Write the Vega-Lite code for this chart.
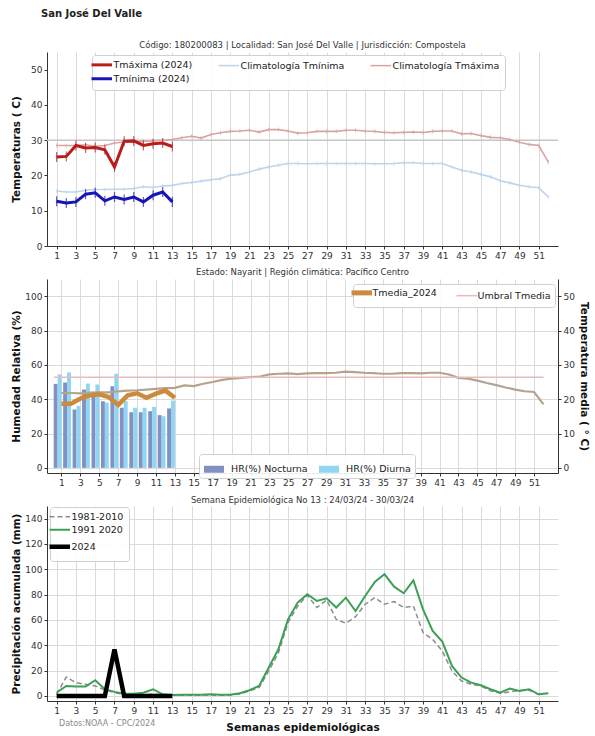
{
"$schema":"https://vega.github.io/schema/vega-lite/v6.json",
"background":"white",
"padding":{"left":10,"top":8,"right":5,"bottom":2},
"title":{"text":"San José Del Valle","anchor":"start","frame":"bounds","fontSize":10,"fontWeight":"bold","color":"#222","dx":30,"offset":22},
"datasets":{
"temp":[
{"w":1,"s":"Tmáxima (2024)","v":25.2},{"w":2,"s":"Tmáxima (2024)","v":25.4},{"w":3,"s":"Tmáxima (2024)","v":28.5},{"w":4,"s":"Tmáxima (2024)","v":27.8},{"w":5,"s":"Tmáxima (2024)","v":27.9},{"w":6,"s":"Tmáxima (2024)","v":27.3},{"w":7,"s":"Tmáxima (2024)","v":22.4},{"w":8,"s":"Tmáxima (2024)","v":29.7},{"w":9,"s":"Tmáxima (2024)","v":29.8},{"w":10,"s":"Tmáxima (2024)","v":28.5},{"w":11,"s":"Tmáxima (2024)","v":29.0},{"w":12,"s":"Tmáxima (2024)","v":29.2},{"w":13,"s":"Tmáxima (2024)","v":28.2},
{"w":1,"s":"Tmínima (2024)","v":12.7},{"w":2,"s":"Tmínima (2024)","v":12.2},{"w":3,"s":"Tmínima (2024)","v":12.5},{"w":4,"s":"Tmínima (2024)","v":14.7},{"w":5,"s":"Tmínima (2024)","v":15.1},{"w":6,"s":"Tmínima (2024)","v":12.8},{"w":7,"s":"Tmínima (2024)","v":13.9},{"w":8,"s":"Tmínima (2024)","v":13.2},{"w":9,"s":"Tmínima (2024)","v":13.9},{"w":10,"s":"Tmínima (2024)","v":12.5},{"w":11,"s":"Tmínima (2024)","v":14.4},{"w":12,"s":"Tmínima (2024)","v":15.3},{"w":13,"s":"Tmínima (2024)","v":12.5},
{"w":1,"s":"Climatología Tmáxima","v":28.5},{"w":2,"s":"Climatología Tmáxima","v":28.5},{"w":3,"s":"Climatología Tmáxima","v":28.5},{"w":4,"s":"Climatología Tmáxima","v":28.7},{"w":5,"s":"Climatología Tmáxima","v":28.3},{"w":6,"s":"Climatología Tmáxima","v":28.5},{"w":7,"s":"Climatología Tmáxima","v":29.2},{"w":8,"s":"Climatología Tmáxima","v":29.5},{"w":9,"s":"Climatología Tmáxima","v":29.5},{"w":10,"s":"Climatología Tmáxima","v":29.7},{"w":11,"s":"Climatología Tmáxima","v":29.8},{"w":12,"s":"Climatología Tmáxima","v":30.0},{"w":13,"s":"Climatología Tmáxima","v":30.2},{"w":14,"s":"Climatología Tmáxima","v":30.7},{"w":15,"s":"Climatología Tmáxima","v":31.1},{"w":16,"s":"Climatología Tmáxima","v":30.6},{"w":17,"s":"Climatología Tmáxima","v":31.6},{"w":18,"s":"Climatología Tmáxima","v":32.1},{"w":19,"s":"Climatología Tmáxima","v":32.5},{"w":20,"s":"Climatología Tmáxima","v":32.6},{"w":21,"s":"Climatología Tmáxima","v":32.8},{"w":22,"s":"Climatología Tmáxima","v":32.3},{"w":23,"s":"Climatología Tmáxima","v":33.0},{"w":24,"s":"Climatología Tmáxima","v":33.0},{"w":25,"s":"Climatología Tmáxima","v":32.6},{"w":26,"s":"Climatología Tmáxima","v":32.0},{"w":27,"s":"Climatología Tmáxima","v":32.1},{"w":28,"s":"Climatología Tmáxima","v":32.5},{"w":29,"s":"Climatología Tmáxima","v":32.5},{"w":30,"s":"Climatología Tmáxima","v":32.5},{"w":31,"s":"Climatología Tmáxima","v":32.8},{"w":32,"s":"Climatología Tmáxima","v":32.8},{"w":33,"s":"Climatología Tmáxima","v":32.6},{"w":34,"s":"Climatología Tmáxima","v":32.5},{"w":35,"s":"Climatología Tmáxima","v":32.2},{"w":36,"s":"Climatología Tmáxima","v":32.1},{"w":37,"s":"Climatología Tmáxima","v":32.2},{"w":38,"s":"Climatología Tmáxima","v":32.3},{"w":39,"s":"Climatología Tmáxima","v":32.2},{"w":40,"s":"Climatología Tmáxima","v":32.5},{"w":41,"s":"Climatología Tmáxima","v":32.6},{"w":42,"s":"Climatología Tmáxima","v":32.6},{"w":43,"s":"Climatología Tmáxima","v":31.8},{"w":44,"s":"Climatología Tmáxima","v":31.9},{"w":45,"s":"Climatología Tmáxima","v":31.3},{"w":46,"s":"Climatología Tmáxima","v":30.8},{"w":47,"s":"Climatología Tmáxima","v":30.7},{"w":48,"s":"Climatología Tmáxima","v":30.2},{"w":49,"s":"Climatología Tmáxima","v":29.4},{"w":50,"s":"Climatología Tmáxima","v":28.8},{"w":51,"s":"Climatología Tmáxima","v":28.5},{"w":52,"s":"Climatología Tmáxima","v":23.8},
{"w":1,"s":"Climatología Tmínima","v":15.6},{"w":2,"s":"Climatología Tmínima","v":15.3},{"w":3,"s":"Climatología Tmínima","v":15.3},{"w":4,"s":"Climatología Tmínima","v":15.8},{"w":5,"s":"Climatología Tmínima","v":16.0},{"w":6,"s":"Climatología Tmínima","v":16.0},{"w":7,"s":"Climatología Tmínima","v":16.1},{"w":8,"s":"Climatología Tmínima","v":16.1},{"w":9,"s":"Climatología Tmínima","v":16.3},{"w":10,"s":"Climatología Tmínima","v":16.8},{"w":11,"s":"Climatología Tmínima","v":16.6},{"w":12,"s":"Climatología Tmínima","v":17.0},{"w":13,"s":"Climatología Tmínima","v":17.2},{"w":14,"s":"Climatología Tmínima","v":17.7},{"w":15,"s":"Climatología Tmínima","v":18.0},{"w":16,"s":"Climatología Tmínima","v":18.4},{"w":17,"s":"Climatología Tmínima","v":18.8},{"w":18,"s":"Climatología Tmínima","v":19.1},{"w":19,"s":"Climatología Tmínima","v":20.1},{"w":20,"s":"Climatología Tmínima","v":20.3},{"w":21,"s":"Climatología Tmínima","v":21.0},{"w":22,"s":"Climatología Tmínima","v":21.8},{"w":23,"s":"Climatología Tmínima","v":22.4},{"w":24,"s":"Climatología Tmínima","v":22.9},{"w":25,"s":"Climatología Tmínima","v":23.4},{"w":26,"s":"Climatología Tmínima","v":23.4},{"w":27,"s":"Climatología Tmínima","v":23.3},{"w":28,"s":"Climatología Tmínima","v":23.4},{"w":29,"s":"Climatología Tmínima","v":23.4},{"w":30,"s":"Climatología Tmínima","v":23.4},{"w":31,"s":"Climatología Tmínima","v":23.4},{"w":32,"s":"Climatología Tmínima","v":23.4},{"w":33,"s":"Climatología Tmínima","v":23.4},{"w":34,"s":"Climatología Tmínima","v":23.3},{"w":35,"s":"Climatología Tmínima","v":23.3},{"w":36,"s":"Climatología Tmínima","v":23.4},{"w":37,"s":"Climatología Tmínima","v":23.6},{"w":38,"s":"Climatología Tmínima","v":23.6},{"w":39,"s":"Climatología Tmínima","v":23.4},{"w":40,"s":"Climatología Tmínima","v":23.4},{"w":41,"s":"Climatología Tmínima","v":23.4},{"w":42,"s":"Climatología Tmínima","v":22.4},{"w":43,"s":"Climatología Tmínima","v":21.5},{"w":44,"s":"Climatología Tmínima","v":21.0},{"w":45,"s":"Climatología Tmínima","v":20.3},{"w":46,"s":"Climatología Tmínima","v":19.6},{"w":47,"s":"Climatología Tmínima","v":18.5},{"w":48,"s":"Climatología Tmínima","v":17.9},{"w":49,"s":"Climatología Tmínima","v":17.2},{"w":50,"s":"Climatología Tmínima","v":16.8},{"w":51,"s":"Climatología Tmínima","v":16.5},{"w":52,"s":"Climatología Tmínima","v":13.9}
],
"hr":[
{"w":1,"t":"HR(%) Nocturna","hr":48.9},{"w":2,"t":"HR(%) Nocturna","hr":49.7},{"w":3,"t":"HR(%) Nocturna","hr":34.0},{"w":4,"t":"HR(%) Nocturna","hr":45.6},{"w":5,"t":"HR(%) Nocturna","hr":43.1},{"w":6,"t":"HR(%) Nocturna","hr":38.8},{"w":7,"t":"HR(%) Nocturna","hr":47.6},{"w":8,"t":"HR(%) Nocturna","hr":35.0},{"w":9,"t":"HR(%) Nocturna","hr":32.4},{"w":10,"t":"HR(%) Nocturna","hr":32.4},{"w":11,"t":"HR(%) Nocturna","hr":33.0},{"w":12,"t":"HR(%) Nocturna","hr":30.7},{"w":13,"t":"HR(%) Nocturna","hr":34.6},
{"w":1,"t":"HR(%) Diurna","hr":54.4},{"w":2,"t":"HR(%) Diurna","hr":55.6},{"w":3,"t":"HR(%) Diurna","hr":36.0},{"w":4,"t":"HR(%) Diurna","hr":49.1},{"w":5,"t":"HR(%) Diurna","hr":48.5},{"w":6,"t":"HR(%) Diurna","hr":38.0},{"w":7,"t":"HR(%) Diurna","hr":54.8},{"w":8,"t":"HR(%) Diurna","hr":38.8},{"w":9,"t":"HR(%) Diurna","hr":35.0},{"w":10,"t":"HR(%) Diurna","hr":35.0},{"w":11,"t":"HR(%) Diurna","hr":35.5},{"w":12,"t":"HR(%) Diurna","hr":30.1},{"w":13,"t":"HR(%) Diurna","hr":39.2}
],
"tmed":[
{"w":1,"s":"Tmedia_2024","v":18.7},{"w":2,"s":"Tmedia_2024","v":18.7},{"w":3,"s":"Tmedia_2024","v":20.2},{"w":4,"s":"Tmedia_2024","v":21.1},{"w":5,"s":"Tmedia_2024","v":21.4},{"w":6,"s":"Tmedia_2024","v":20.6},{"w":7,"s":"Tmedia_2024","v":18.3},{"w":8,"s":"Tmedia_2024","v":21.1},{"w":9,"s":"Tmedia_2024","v":21.7},{"w":10,"s":"Tmedia_2024","v":20.4},{"w":11,"s":"Tmedia_2024","v":21.6},{"w":12,"s":"Tmedia_2024","v":22.5},{"w":13,"s":"Tmedia_2024","v":20.4},
{"w":1,"s":"Clim","v":21.8},{"w":2,"s":"Clim","v":21.8},{"w":3,"s":"Clim","v":21.7},{"w":4,"s":"Clim","v":21.9},{"w":5,"s":"Clim","v":22.0},{"w":6,"s":"Clim","v":22.0},{"w":7,"s":"Clim","v":22.3},{"w":8,"s":"Clim","v":22.5},{"w":9,"s":"Clim","v":22.6},{"w":10,"s":"Clim","v":22.8},{"w":11,"s":"Clim","v":23.0},{"w":12,"s":"Clim","v":23.2},{"w":13,"s":"Clim","v":23.3},{"w":14,"s":"Clim","v":24.0},{"w":15,"s":"Clim","v":23.8},{"w":16,"s":"Clim","v":24.5},{"w":17,"s":"Clim","v":25.0},{"w":18,"s":"Clim","v":25.6},{"w":19,"s":"Clim","v":26.0},{"w":20,"s":"Clim","v":26.2},{"w":21,"s":"Clim","v":26.4},{"w":22,"s":"Clim","v":26.6},{"w":23,"s":"Clim","v":27.2},{"w":24,"s":"Clim","v":27.4},{"w":25,"s":"Clim","v":27.5},{"w":26,"s":"Clim","v":27.3},{"w":27,"s":"Clim","v":27.5},{"w":28,"s":"Clim","v":27.6},{"w":29,"s":"Clim","v":27.6},{"w":30,"s":"Clim","v":27.7},{"w":31,"s":"Clim","v":28.0},{"w":32,"s":"Clim","v":27.9},{"w":33,"s":"Clim","v":27.7},{"w":34,"s":"Clim","v":27.6},{"w":35,"s":"Clim","v":27.4},{"w":36,"s":"Clim","v":27.4},{"w":37,"s":"Clim","v":27.6},{"w":38,"s":"Clim","v":27.6},{"w":39,"s":"Clim","v":27.5},{"w":40,"s":"Clim","v":27.7},{"w":41,"s":"Clim","v":27.7},{"w":42,"s":"Clim","v":27.2},{"w":43,"s":"Clim","v":26.2},{"w":44,"s":"Clim","v":26.0},{"w":45,"s":"Clim","v":25.4},{"w":46,"s":"Clim","v":24.7},{"w":47,"s":"Clim","v":24.1},{"w":48,"s":"Clim","v":23.4},{"w":49,"s":"Clim","v":22.8},{"w":50,"s":"Clim","v":22.3},{"w":51,"s":"Clim","v":22.1},{"w":52,"s":"Clim","v":18.5}
],
"prec":[
{"w":1,"s":"1981-2010","v":1.3},{"w":2,"s":"1981-2010","v":15.0},{"w":3,"s":"1981-2010","v":10.5},{"w":4,"s":"1981-2010","v":9.2},{"w":5,"s":"1981-2010","v":7.9},{"w":6,"s":"1981-2010","v":4.7},{"w":7,"s":"1981-2010","v":2.6},{"w":8,"s":"1981-2010","v":1.3},{"w":9,"s":"1981-2010","v":1.0},{"w":10,"s":"1981-2010","v":1.0},{"w":11,"s":"1981-2010","v":1.5},{"w":12,"s":"1981-2010","v":1.0},{"w":13,"s":"1981-2010","v":0.5},{"w":14,"s":"1981-2010","v":0.5},{"w":15,"s":"1981-2010","v":0.5},{"w":16,"s":"1981-2010","v":0.5},{"w":17,"s":"1981-2010","v":0.8},{"w":18,"s":"1981-2010","v":0.5},{"w":19,"s":"1981-2010","v":0.8},{"w":20,"s":"1981-2010","v":1.5},{"w":21,"s":"1981-2010","v":4.0},{"w":22,"s":"1981-2010","v":6.6},{"w":23,"s":"1981-2010","v":19.7},{"w":24,"s":"1981-2010","v":34.0},{"w":25,"s":"1981-2010","v":57.9},{"w":26,"s":"1981-2010","v":71.0},{"w":27,"s":"1981-2010","v":79.5},{"w":28,"s":"1981-2010","v":69.8},{"w":29,"s":"1981-2010","v":75.8},{"w":30,"s":"1981-2010","v":60.5},{"w":31,"s":"1981-2010","v":57.4},{"w":32,"s":"1981-2010","v":62.6},{"w":33,"s":"1981-2010","v":72.4},{"w":34,"s":"1981-2010","v":77.6},{"w":35,"s":"1981-2010","v":72.4},{"w":36,"s":"1981-2010","v":74.5},{"w":37,"s":"1981-2010","v":69.8},{"w":38,"s":"1981-2010","v":71.0},{"w":39,"s":"1981-2010","v":50.0},{"w":40,"s":"1981-2010","v":44.7},{"w":41,"s":"1981-2010","v":35.5},{"w":42,"s":"1981-2010","v":19.7},{"w":43,"s":"1981-2010","v":11.8},{"w":44,"s":"1981-2010","v":9.2},{"w":45,"s":"1981-2010","v":7.9},{"w":46,"s":"1981-2010","v":4.0},{"w":47,"s":"1981-2010","v":2.1},{"w":48,"s":"1981-2010","v":3.2},{"w":49,"s":"1981-2010","v":4.5},{"w":50,"s":"1981-2010","v":4.5},{"w":51,"s":"1981-2010","v":1.0},
{"w":1,"s":"1991 2020","v":2.7},{"w":2,"s":"1991 2020","v":7.9},{"w":3,"s":"1991 2020","v":7.4},{"w":4,"s":"1991 2020","v":7.4},{"w":5,"s":"1991 2020","v":12.4},{"w":6,"s":"1991 2020","v":5.3},{"w":7,"s":"1991 2020","v":3.2},{"w":8,"s":"1991 2020","v":1.8},{"w":9,"s":"1991 2020","v":1.8},{"w":10,"s":"1991 2020","v":2.6},{"w":11,"s":"1991 2020","v":5.3},{"w":12,"s":"1991 2020","v":1.3},{"w":13,"s":"1991 2020","v":0.8},{"w":14,"s":"1991 2020","v":1.0},{"w":15,"s":"1991 2020","v":1.0},{"w":16,"s":"1991 2020","v":1.0},{"w":17,"s":"1991 2020","v":1.3},{"w":18,"s":"1991 2020","v":1.0},{"w":19,"s":"1991 2020","v":1.0},{"w":20,"s":"1991 2020","v":2.1},{"w":21,"s":"1991 2020","v":4.5},{"w":22,"s":"1991 2020","v":7.9},{"w":23,"s":"1991 2020","v":22.4},{"w":24,"s":"1991 2020","v":36.9},{"w":25,"s":"1991 2020","v":60.5},{"w":26,"s":"1991 2020","v":73.7},{"w":27,"s":"1991 2020","v":80.3},{"w":28,"s":"1991 2020","v":75.0},{"w":29,"s":"1991 2020","v":77.1},{"w":30,"s":"1991 2020","v":69.8},{"w":31,"s":"1991 2020","v":77.6},{"w":32,"s":"1991 2020","v":67.1},{"w":33,"s":"1991 2020","v":78.9},{"w":34,"s":"1991 2020","v":90.0},{"w":35,"s":"1991 2020","v":96.1},{"w":36,"s":"1991 2020","v":86.3},{"w":37,"s":"1991 2020","v":81.1},{"w":38,"s":"1991 2020","v":91.3},{"w":39,"s":"1991 2020","v":68.4},{"w":40,"s":"1991 2020","v":51.3},{"w":41,"s":"1991 2020","v":42.9},{"w":42,"s":"1991 2020","v":23.7},{"w":43,"s":"1991 2020","v":14.5},{"w":44,"s":"1991 2020","v":10.5},{"w":45,"s":"1991 2020","v":8.4},{"w":46,"s":"1991 2020","v":5.3},{"w":47,"s":"1991 2020","v":2.6},{"w":48,"s":"1991 2020","v":5.8},{"w":49,"s":"1991 2020","v":4.0},{"w":50,"s":"1991 2020","v":5.3},{"w":51,"s":"1991 2020","v":1.3},{"w":52,"s":"1991 2020","v":2.1},
{"w":1,"s":"2024","v":0},{"w":2,"s":"2024","v":0},{"w":3,"s":"2024","v":0},{"w":4,"s":"2024","v":0},{"w":5,"s":"2024","v":0},{"w":6,"s":"2024","v":0},{"w":7,"s":"2024","v":36.8},{"w":8,"s":"2024","v":0},{"w":9,"s":"2024","v":0},{"w":10,"s":"2024","v":0},{"w":11,"s":"2024","v":0},{"w":12,"s":"2024","v":0},{"w":13,"s":"2024","v":0}
]
},
"vconcat":[
{
"width":511,"height":194,
"title":{"text":"Código: 180200083  |  Localidad: San José Del Valle  |  Jurisdicción: Compostela","offset":3},
"layer":[
{"data":{"values":[{}]},"mark":{"type":"rule","color":"#c6c6c6","strokeWidth":1.5},
 "encoding":{"y":{"datum":30,"type":"quantitative","scale":{"domain":[0,55],"nice":false},"axis":{"values":[0,10,20,30,40,50],"tickCount":20,"title":"Temperaturas (    C)","titleX":-26}}}},
{"data":{"name":"temp"},"transform":[{"filter":"indexof(datum.s,'Climatolog')==0"}],
 "mark":{"type":"line","strokeWidth":1.6},
 "encoding":{
  "x":{"field":"w","type":"quantitative","scale":{"domain":[0,53],"nice":false},"axis":{"values":[1,3,5,7,9,11,13,15,17,19,21,23,25,27,29,31,33,35,37,39,41,43,45,47,49,51],"tickCount":60,"title":null,"labelAngle":0}},
  "y":{"field":"v","type":"quantitative"},
  "color":{"field":"s","type":"nominal","sort":null,"scale":{"domain":["Tmáxima (2024)","Climatología Tmáxima","Climatología Tmínima","Tmínima (2024)"],"range":["#b81d1d","#dba2a2","#bdd5ec","#1616b4"]},
   "legend":{"orient":"none","legendX":45,"legendY":3,"columns":3,"title":null,"symbolType":"stroke","symbolSize":420,"labelFontSize":9.5,"labelColor":"#222","labelOffset":7,"columnPadding":22,"rowPadding":1,"padding":5,"fillColor":"rgba(255,255,255,0.9)","strokeColor":"#d0d0d0","cornerRadius":3,
    "encode":{"symbols":{"update":{"strokeWidth":{"signal":"(datum.value=='Tmáxima (2024)'||datum.value=='Tmínima (2024)')?3:1.5"}}}}}}
 }},
{"data":{"name":"temp"},"transform":[{"filter":"indexof(datum.s,'Climatolog')==0"}],
 "mark":{"type":"tick","orient":"vertical","size":4,"thickness":1},
 "encoding":{"x":{"field":"w","type":"quantitative"},"y":{"field":"v","type":"quantitative"},"color":{"field":"s","type":"nominal","sort":null,"scale":{"domain":["Tmáxima (2024)","Climatología Tmáxima","Climatología Tmínima","Tmínima (2024)"]}}}},
{"data":{"name":"temp"},"transform":[{"filter":"indexof(datum.s,'Climatolog')<0"}],
 "mark":{"type":"line","strokeWidth":3},
 "encoding":{"x":{"field":"w","type":"quantitative"},"y":{"field":"v","type":"quantitative"},"color":{"field":"s","type":"nominal","sort":null,"scale":{"domain":["Tmáxima (2024)","Climatología Tmáxima","Climatología Tmínima","Tmínima (2024)"]}}}},
{"data":{"name":"temp"},"transform":[{"filter":"indexof(datum.s,'Climatolog')<0"}],
 "mark":{"type":"tick","orient":"vertical","size":10,"thickness":1.2},
 "encoding":{"x":{"field":"w","type":"quantitative"},"y":{"field":"v","type":"quantitative"},"color":{"field":"s","type":"nominal","sort":null,"scale":{"domain":["Tmáxima (2024)","Climatología Tmáxima","Climatología Tmínima","Tmínima (2024)"]}}}}
]
},
{
"width":511,"height":194,
"title":{"text":"Estado: Nayarit  |  Región climática: Pacífico Centro","offset":3},
"layer":[
{"data":{"name":"hr"},
 "layer":[
 {"transform":[{"filter":"datum.t=='HR(%) Nocturna'"}],
  "mark":{"type":"bar","width":3.9,"xOffset":-5.8},
  "encoding":{
   "x":{"field":"w","type":"quantitative","scale":{"domain":[0,53],"nice":false},"axis":{"values":[1,3,5,7,9,11,13,15,17,19,21,23,25,27,29,31,33,35,37,39,41,43,45,47,49,51],"tickCount":60,"title":null,"labelAngle":0}},
   "y":{"field":"hr","type":"quantitative","scale":{"domain":[-3,110],"nice":false,"zero":false},"axis":{"values":[0,20,40,60,80,100],"tickCount":20,"title":"Humedad Relativa (%)","titleX":-26}},
   "fill":{"field":"t","type":"nominal","scale":{"domain":["HR(%) Nocturna","HR(%) Diurna"],"range":["#8290c2","#8fd6f3"]},
    "legend":{"orient":"none","legendX":152,"legendY":175,"direction":"horizontal","title":null,"symbolType":"M-1,-0.35h2v0.7h-2z","symbolSize":400,"labelFontSize":9.5,"labelColor":"#222","labelOffset":6,"columnPadding":10,"padding":4,"fillColor":"rgba(255,255,255,0.9)","strokeColor":"#d0d0d0","cornerRadius":3}}
  }},
 {"transform":[{"filter":"datum.t=='HR(%) Diurna'"}],
  "mark":{"type":"bar","width":3.9,"xOffset":-1.9},
  "encoding":{"x":{"field":"w","type":"quantitative"},"y":{"field":"hr","type":"quantitative"},"fill":{"field":"t","type":"nominal"}}}
 ]},
{"layer":[
 {"data":{"name":"tmed"},"transform":[{"filter":"datum.s=='Clim'"}],
  "mark":{"type":"line","strokeWidth":2.2,"color":"#b6a38d"},
  "encoding":{"x":{"field":"w","type":"quantitative"},
   "y":{"field":"v","type":"quantitative","scale":{"domain":[-1.5,55],"nice":false,"zero":false},"axis":{"orient":"right","values":[0,10,20,30,40,50],"tickCount":20,"grid":false,"title":"Temperatura media ( ° C)"}}}},
 {"data":{"values":[{}]},"mark":{"type":"rule","strokeWidth":1.5},
  "encoding":{"x":{"datum":0.2,"type":"quantitative"},"x2":{"datum":52},"y":{"datum":26.4,"type":"quantitative"},"stroke":{"datum":"Umbral Tmedia","type":"nominal"}}},
 {"data":{"name":"tmed"},"transform":[{"filter":"datum.s=='Tmedia_2024'"}],
  "mark":{"type":"line","strokeWidth":4.5},
  "encoding":{"x":{"field":"w","type":"quantitative"},"y":{"field":"v","type":"quantitative"},
   "stroke":{"field":"s","type":"nominal","scale":{"domain":["Tmedia_2024","Umbral Tmedia"],"range":["#cc8a3c","#e8bcbc"]},
    "legend":{"orient":"none","legendX":306,"legendY":5,"direction":"horizontal","title":null,"symbolType":"stroke","symbolSize":420,"labelFontSize":9.5,"labelColor":"#222","labelOffset":6,"columnPadding":16,"padding":4,"fillColor":"rgba(255,255,255,0.9)","strokeColor":"#d0d0d0","cornerRadius":3,
     "encode":{"symbols":{"update":{"strokeWidth":{"signal":"datum.value=='Tmedia_2024'?5:1.5"}}}}}}}}
 ]}
],
"resolve":{"scale":{"y":"independent"}}
},
{
"title":{"text":"Datos:NOAA - CPC/2024","orient":"bottom","anchor":"start","frame":"bounds","fontSize":8,"color":"#8a8a8a","dx":48,"dy":-17},
"vconcat":[
{
"width":511,"height":195,
"title":{"text":"Semana Epidemiológica No 13  :   24/03/24 - 30/03/24","offset":2},
"data":{"name":"prec"},
"layer":[
{"transform":[{"filter":"datum.s=='1981-2010'"}],
 "mark":{"type":"line","strokeWidth":1.5,"strokeDash":[5,3]},
 "encoding":{
  "x":{"field":"w","type":"quantitative","scale":{"domain":[0,53],"nice":false},"axis":{"values":[1,3,5,7,9,11,13,15,17,19,21,23,25,27,29,31,33,35,37,39,41,43,45,47,49,51],"tickCount":60,"title":"Semanas epidemiológicas","labelAngle":0,"titlePadding":7}},
  "y":{"field":"v","type":"quantitative","scale":{"domain":[-4,150],"nice":false,"zero":false},"axis":{"values":[0,20,40,60,80,100,120,140],"tickCount":20,"title":"Precipitación acumulada (mm)","titleX":-26}},
  "color":{"field":"s","type":"nominal","scale":{"domain":["1981-2010","1991 2020","2024"],"range":["#8c8c8c","#3d9f57","#000000"]},
   "legend":{"orient":"none","legendX":3,"legendY":1,"title":null,"symbolType":"stroke","symbolSize":420,"labelFontSize":9.5,"labelColor":"#222","labelOffset":7,"rowPadding":2,"padding":5,"fillColor":"rgba(255,255,255,0.9)","strokeColor":"#d0d0d0","cornerRadius":3,
    "encode":{"symbols":{"update":{"strokeWidth":{"signal":"datum.value=='2024'?4.5:(datum.value=='1991 2020'?2:1.5)"},"strokeDash":{"signal":"datum.value=='1981-2010'?[5,3]:[1,0]"}}}}}}
 }},
{"transform":[{"filter":"datum.s=='1991 2020'"}],
 "mark":{"type":"line","strokeWidth":2},
 "encoding":{"x":{"field":"w","type":"quantitative"},"y":{"field":"v","type":"quantitative"},"color":{"field":"s","type":"nominal"}}},
{"transform":[{"filter":"datum.s=='2024'"}],
 "mark":{"type":"line","strokeWidth":4.5},
 "encoding":{"x":{"field":"w","type":"quantitative"},"y":{"field":"v","type":"quantitative"},"color":{"field":"s","type":"nominal"}}}
]
}
]
}
],
"spacing":33,
"bounds":"flush",
"resolve":{"scale":{"x":"independent","y":"independent","color":"independent","fill":"independent","stroke":"independent"},"axis":{"x":"independent","y":"independent"},"legend":{"color":"independent","fill":"independent","stroke":"independent"}},
"config":{
 "font":"DejaVu Sans",
 "view":{"stroke":null},
 "axis":{"labelFontSize":9,"labelColor":"#333","titleFontSize":10.5,"titleFontWeight":"bold","titleColor":"#111","gridColor":"#dadada","domainColor":"#333","tickColor":"#333","tickSize":3,"labelPadding":2,"labelOverlap":false},
 "title":{"fontSize":8.5,"fontWeight":"normal","color":"#333"}
}
}
